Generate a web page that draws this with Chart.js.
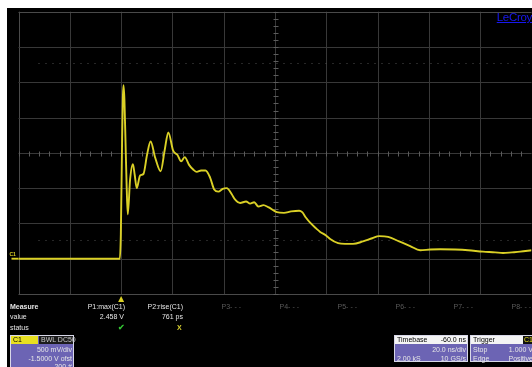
<!DOCTYPE html>
<html>
<head>
<meta charset="utf-8">
<script src="https://cdn.jsdelivr.net/npm/chart.js@4/dist/chart.umd.min.js"></script>
<style>
  html, body { margin: 0; padding: 0; background: #ffffff; }
  #scope { position: relative; width: 532px; height: 367px; overflow: hidden; }
  #scope canvas { position: absolute; left: 0; top: 0; }
  .t { position: absolute; font-family: "Liberation Sans", Arial, sans-serif; font-size: 7px; line-height: 8px; color: #e6e6e6; white-space: nowrap; }
  .r { text-align: right; }
  .dim { color: #5a5a5a; }
  .box { position: absolute; background: #6c64b4; border: 1px solid #d8d8e8; box-sizing: border-box; }
  .hdr { position: absolute; left: 0; right: 0; top: 0; height: 8px; background: #f4f4f4; }
  .logo { position: absolute; right: 0; top: 11px; font-family: "Liberation Sans", Arial, sans-serif; font-size: 11.5px; line-height: 12px; color: #1818f0; text-decoration: underline; letter-spacing: -0.3px; }
</style>
</head>
<body>
<div id="scope">
  <canvas id="c" width="532" height="367"></canvas>

  <div class="logo">LeCroy</div>

  <!-- measurement table -->
  <div class="t" style="left:10px;top:303px;font-weight:bold;">Measure</div>
  <div class="t" style="left:10px;top:313px;">value</div>
  <div class="t" style="left:10px;top:324px;">status</div>

  <div class="t r" style="left:67px;width:58px;top:303px;">P1:max(C1)</div>
  <div class="t r" style="left:125px;width:58px;top:303px;">P2:rise(C1)</div>
  <div class="t r dim" style="left:183px;width:58px;top:303px;">P3- - -</div>
  <div class="t r dim" style="left:241px;width:58px;top:303px;">P4- - -</div>
  <div class="t r dim" style="left:299px;width:58px;top:303px;">P5- - -</div>
  <div class="t r dim" style="left:357px;width:58px;top:303px;">P6- - -</div>
  <div class="t r dim" style="left:415px;width:58px;top:303px;">P7- - -</div>
  <div class="t r dim" style="left:473px;width:58px;top:303px;">P8- - -</div>

  <div class="t r" id="p1val" style="left:66px;width:58px;top:313px;"></div>
  <div class="t r" id="p2val" style="left:125px;width:58px;top:313px;"></div>
  <div class="t" style="left:118px;top:324px;color:#33c433;font-weight:bold;font-size:8px;">✔</div>
  <div class="t" style="left:177px;top:324px;color:#d8d030;font-weight:bold;">X</div>

  <!-- channel descriptor -->
  <div class="box" style="left:10px;top:335px;width:64px;height:40px;">
    <div style="position:absolute;left:0;top:0;width:27px;height:8px;background:#e8e020;"></div>
    <div class="t" style="left:2px;top:0;color:#000;">C1</div>
    <div style="position:absolute;left:28px;top:0;right:0;height:8px;background:#1c1c1c;"></div>
    <div class="t" style="left:30px;top:0;color:#c8c8c8;">BWL DC50</div>
    <div class="t r" style="left:0;width:61px;top:10px;" id="vdiv"></div>
    <div class="t r" style="left:0;width:61px;top:18.5px;" id="vofs"></div>
    <div class="t r" style="left:0;width:61px;top:27px;">200 #</div>
  </div>

  <!-- timebase descriptor -->
  <div class="box" style="left:394px;top:335px;width:74px;height:27px;">
    <div class="hdr"></div>
    <div class="t" style="left:2px;top:0;color:#000;">Timebase</div>
    <div class="t r" style="left:0;width:71px;top:0;color:#000;">-60.0 ns</div>
    <div class="t r" style="left:0;width:71px;top:10px;" id="tdiv"></div>
    <div class="t" style="left:2px;top:18.5px;">2.00 kS</div>
    <div class="t r" style="left:0;width:71px;top:18.5px;">10 GS/s</div>
  </div>

  <!-- trigger descriptor -->
  <div class="box" style="left:470px;top:335px;width:66px;height:27px;">
    <div class="hdr"></div>
    <div class="t" style="left:2px;top:0;color:#000;">Trigger</div>
    <div style="position:absolute;left:52px;top:0;width:14px;height:8px;background:#111;"></div>
    <div class="t" style="left:53px;top:0;color:#e8e020;">C1</div>
    <div class="t" style="left:2px;top:10px;">Stop</div>
    <div class="t r" style="left:0;width:62px;top:10px;">1.000 V</div>
    <div class="t" style="left:2px;top:18.5px;">Edge</div>
    <div class="t r" style="left:0;width:62px;top:18.5px;">Positive</div>
  </div>
</div>

<script>
// Acquisition settings
const voltsPerDiv = 0.5;     // V
const offsetVolts = -1.5;    // V
const nsPerDiv = 20;         // ns
const triggerDelay = 60;     // ns, trigger point left of screen centre

// Graticule lines (time in ns from trigger, voltage in V)
const timeTicks = [-40, -20, 0, 20, 40, 60, 80, 100, 120, 140, 160];
const voltTicks = [-0.5, 0, 0.5, 1, 1.5, 2, 2.5, 3, 3.5];
// Dotted reference levels
const refLevels = [0.26, 2.77];

// Captured trace C1
const timeNs = [-40, -0.5, -0.1, 0.4, 0.7, 0.95, 1.3, 1.8, 2.2, 2.6, 3.5, 4.6, 5.3, 6.1, 7.4, 8.7,
  10.1, 11.5, 13.3, 15.4, 17.0, 18.4, 20.3, 22.0, 23.4, 24.8, 26.5, 28.2, 29.5, 31.2, 32.9, 34.7,
  36.3, 37.9, 39.6, 41.2, 43.2, 44.4, 46.4, 48.7, 50.3, 51.9, 53.5, 55.5, 57.4, 60.7, 63.5, 66.3,
  69.4, 70.6, 72.1, 73.7, 76.0, 77.6, 79.9, 81.5, 84.6, 87.3, 90.4, 94.3, 97.9, 100.6, 104.1, 108.4,
  112.7, 116.6, 120.5, 124.4, 130.2, 135.3, 141.1, 145.8, 148.9, 152.4, 155.6, 160];
const volts = [0, 0, 0.35, 1.7, 2.3, 2.458, 2.25, 1.54, 0.98, 0.63, 1.12, 1.34, 1.19, 1.0, 1.18, 1.20,
  1.47, 1.66, 1.43, 1.24, 1.54, 1.79, 1.53, 1.47, 1.38, 1.44, 1.33, 1.26, 1.23, 1.25, 1.25, 1.15,
  0.98, 0.95, 0.99, 1.0, 0.91, 0.84, 0.79, 0.81, 0.78, 0.80, 0.74, 0.76, 0.73, 0.66, 0.65, 0.67,
  0.68, 0.66, 0.58, 0.51, 0.43, 0.38, 0.33, 0.28, 0.22, 0.21, 0.21, 0.245, 0.29, 0.32, 0.31, 0.245,
  0.18, 0.12, 0.13, 0.135, 0.13, 0.12, 0.10, 0.09, 0.08, 0.09, 0.10, 0.12];

// Measurements
const p1Max = Math.max(...volts);   // V
const p2RisePs = 761;               // ps

document.getElementById('p1val').textContent = p1Max.toFixed(3) + ' V';
document.getElementById('p2val').textContent = p2RisePs + ' ps';
document.getElementById('vdiv').textContent = (voltsPerDiv * 1000) + ' mV/div';
document.getElementById('vofs').textContent = offsetVolts.toFixed(4) + ' V ofst';
document.getElementById('tdiv').textContent = nsPerDiv.toFixed(1) + ' ns/div';

const traceColor = 'rgb(218, 208, 38)';
const centreT = triggerDelay;
const centreV = -offsetVolts;

const scopePlugin = {
  id: 'scopeScreen',
  beforeDraw(chart) {
    const ctx = chart.ctx;
    ctx.save();
    ctx.fillStyle = '#ffffff';
    ctx.fillRect(0, 0, chart.width, chart.height);
    ctx.fillStyle = '#000000';
    ctx.fillRect(7, 8, chart.width - 7, chart.height - 8);
    ctx.restore();
  },
  beforeDatasetsDraw(chart) {
    const ctx = chart.ctx;
    const xs = chart.scales.x, ys = chart.scales.y;
    const a = chart.chartArea;
    const px = v => Math.round(v) + 0.5;
    ctx.save();
    ctx.lineWidth = 1;
    // graticule
    timeTicks.forEach((t, i) => {
      const x = px(xs.getPixelForValue(t));
      ctx.strokeStyle = (i === 0 || i === timeTicks.length - 1) ? '#4a4a4a' : '#383838';
      ctx.beginPath(); ctx.moveTo(x, a.top); ctx.lineTo(x, a.bottom); ctx.stroke();
    });
    voltTicks.forEach((v, i) => {
      const y = px(ys.getPixelForValue(v));
      ctx.strokeStyle = (i === 0 || i === voltTicks.length - 1) ? '#4a4a4a' : '#383838';
      ctx.beginPath(); ctx.moveTo(a.left, y); ctx.lineTo(a.right, y); ctx.stroke();
    });
    // minor ticks on the centre cross
    ctx.strokeStyle = '#5c5c5c';
    const cx = px(xs.getPixelForValue(centreT));
    const cy = px(ys.getPixelForValue(centreV));
    for (let v = voltTicks[0]; v <= voltTicks[voltTicks.length - 1] + 1e-9; v += voltsPerDiv / 5) {
      const y = px(ys.getPixelForValue(v));
      ctx.beginPath(); ctx.moveTo(cx - 2, y); ctx.lineTo(cx + 3, y); ctx.stroke();
    }
    for (let t = timeTicks[0]; t <= timeTicks[timeTicks.length - 1] + 1e-9; t += nsPerDiv / 5) {
      const x = px(xs.getPixelForValue(t));
      ctx.beginPath(); ctx.moveTo(x, cy - 2); ctx.lineTo(x, cy + 3); ctx.stroke();
    }
    // dotted reference levels
    ctx.strokeStyle = '#4e4e4e';
    ctx.setLineDash([1, 6]);
    refLevels.forEach(v => {
      const y = px(ys.getPixelForValue(v));
      ctx.beginPath(); ctx.moveTo(a.left + 20, y); ctx.lineTo(a.right, y); ctx.stroke();
    });
    ctx.setLineDash([]);
    ctx.restore();
  },
  afterDraw(chart) {
    const ctx = chart.ctx;
    const xs = chart.scales.x, ys = chart.scales.y;
    const a = chart.chartArea;
    ctx.save();
    // ground marker for C1
    const gy = ys.getPixelForValue(0);
    ctx.strokeStyle = traceColor;
    ctx.lineWidth = 1.9;
    ctx.beginPath(); ctx.moveTo(a.left - 7, gy); ctx.lineTo(a.left, gy); ctx.stroke();
    ctx.fillStyle = traceColor;
    ctx.font = 'bold 5px "Liberation Sans", Arial, sans-serif';
    ctx.textBaseline = 'bottom';
    ctx.fillText('C1', a.left - 9, gy - 2);
    // trigger position marker
    const tx = xs.getPixelForValue(0);
    ctx.beginPath();
    ctx.moveTo(tx, a.bottom + 2);
    ctx.lineTo(tx - 3, a.bottom + 8);
    ctx.lineTo(tx + 3, a.bottom + 8);
    ctx.closePath();
    ctx.fill();
    ctx.restore();
  }
};

new Chart(document.getElementById('c'), {
  type: 'line',
  data: {
    datasets: [{
      label: 'C1',
      data: timeNs.map((t, i) => ({ x: t, y: volts[i] })),
      borderColor: traceColor,
      borderWidth: 1.9,
      pointRadius: 0,
      cubicInterpolationMode: 'monotone',
      fill: false
    }]
  },
  options: {
    responsive: false,
    devicePixelRatio: 1,
    animation: false,
    layout: { padding: { left: 18.5, top: 11.7, right: 0.5, bottom: 73 } },
    plugins: { legend: { display: false }, tooltip: { enabled: false } },
    scales: {
      x: { type: 'linear', display: false, min: timeTicks[0], max: timeTicks[timeTicks.length - 1] },
      y: { type: 'linear', display: false, min: voltTicks[0], max: voltTicks[voltTicks.length - 1] }
    }
  },
  plugins: [scopePlugin]
});
</script>
</body>
</html>
